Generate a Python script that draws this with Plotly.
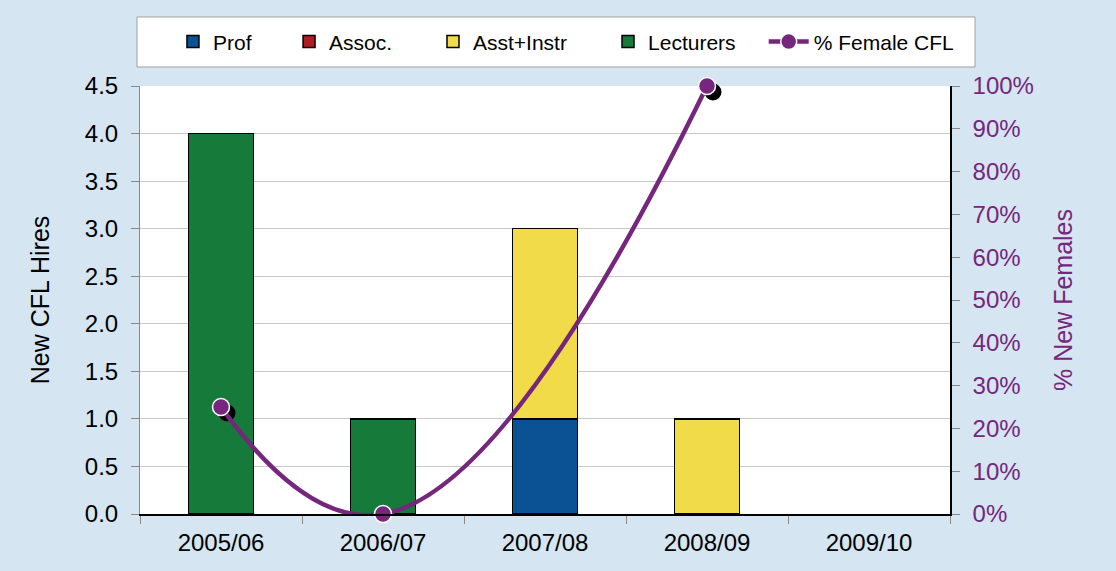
import plotly.graph_objects as go

years = ["2005/06", "2006/07", "2007/08", "2008/09", "2009/10"]
prof = [None, None, 1, None, None]
assoc = [None, None, None, None, None]
asst = [None, None, 2, 1, None]
lecturers = [4, 1, None, None, None]
pct_female = [25, 0, None, 100, None]

FONT = "Arial"
PURPLE = "#76267c"
BG = "#d5e5f2"

series = [
    ("Prof", prof, "#0a5294", "legend", 0.0407),
    ("Assoc.", assoc, "#b31b22", "legend2", 0.1840),
    ("Asst+Instr", asst, "#f2db48", "legend3", 0.3617),
    ("Lecturers", lecturers, "#157a3a", "legend4", 0.5778),
]

fig = go.Figure()
bar_line = dict(color="black", width=1.5)
for name, vals, col, leg, _ in series:
    fig.add_trace(go.Bar(name=name, x=years, y=vals, legend=leg,
                         marker=dict(color=col, line=bar_line)))

# marker shadows on hidden, slightly offset overlay axes (drawn beneath the line)
fig.add_trace(go.Scatter(x=years, y=pct_female, mode="markers", xaxis="x2", yaxis="y2",
                         marker=dict(color="black", size=17), showlegend=False,
                         hoverinfo="skip", cliponaxis=False))
fig.add_trace(go.Scatter(name="% Female CFL", x=years, y=pct_female, xaxis="x3", yaxis="y3",
                         mode="lines+markers", connectgaps=True, legend="legend5",
                         line=dict(color=PURPLE, width=4.5, shape="spline", smoothing=1.3),
                         marker=dict(color=PURPLE, size=17, line=dict(color="white", width=1.5)),
                         cliponaxis=False))

# white legend box
fig.add_shape(type="rect", xref="paper", yref="paper", layer="below",
              x0=-0.0037, x1=1.0309, y0=1.0444, y1=1.1612,
              fillcolor="white", line=dict(color="#a0a0a0", width=1))

legend_style = dict(orientation="h", xanchor="left", y=1.103, yanchor="middle",
                    bgcolor="rgba(0,0,0,0)", borderwidth=0, font=dict(size=21))
legends = {}
for _, _, _, leg, lx in series:
    legends[leg] = dict(legend_style, x=lx, itemwidth=30)
legends["legend5"] = dict(legend_style, x=0.770, itemwidth=40)

fig.update_layout(
    width=1116, height=571,
    barmode="stack", bargap=0.6,
    paper_bgcolor=BG, plot_bgcolor="white",
    margin=dict(l=140, r=166, t=86, b=57, autoexpand=False),
    font=dict(family=FONT, size=24, color="black"),
    xaxis=dict(type="category", range=[-0.5, 4.5], showline=True, linecolor="black", linewidth=1.5,
               ticks="outside", tickson="boundaries", ticklen=8, tickcolor="#888",
               showgrid=False, tickfont=dict(size=24), ticklabelstandoff=6, automargin=False),
    xaxis2=dict(type="category", overlaying="x", range=[-0.537, 4.463], visible=False),
    xaxis3=dict(type="category", overlaying="x", range=[-0.5, 4.5], visible=False),
    yaxis=dict(title=dict(text="New CFL Hires", font=dict(size=25), standoff=28),
               range=[0, 4.5], dtick=0.5, tickformat=".1f",
               showline=True, linecolor="#888", linewidth=1,
               ticks="outside", ticklen=8, tickcolor="#888", ticklabelstandoff=8,
               showgrid=True, gridcolor="#c8c8c8", gridwidth=1,
               zeroline=False, tickfont=dict(size=24), automargin=False),
    yaxis2=dict(overlaying="y", range=[1.4, 101.4], visible=False),
    yaxis3=dict(title=dict(text="% New Females", font=dict(size=25, color=PURPLE), standoff=22),
                overlaying="y", side="right", anchor="x", range=[0, 100], dtick=10, ticksuffix="%",
                showline=True, linecolor="black", linewidth=1.5,
                ticks="outside", ticklen=8, tickcolor="#888", ticklabelstandoff=8,
                showgrid=False, zeroline=False, tickfont=dict(size=24, color=PURPLE),
                automargin=False),
    **legends,
)

fig.write_html("out.html", config={"displayModeBar": False},
               post_script="document.body.style.margin='0';document.body.style.background='%s';" % BG)
